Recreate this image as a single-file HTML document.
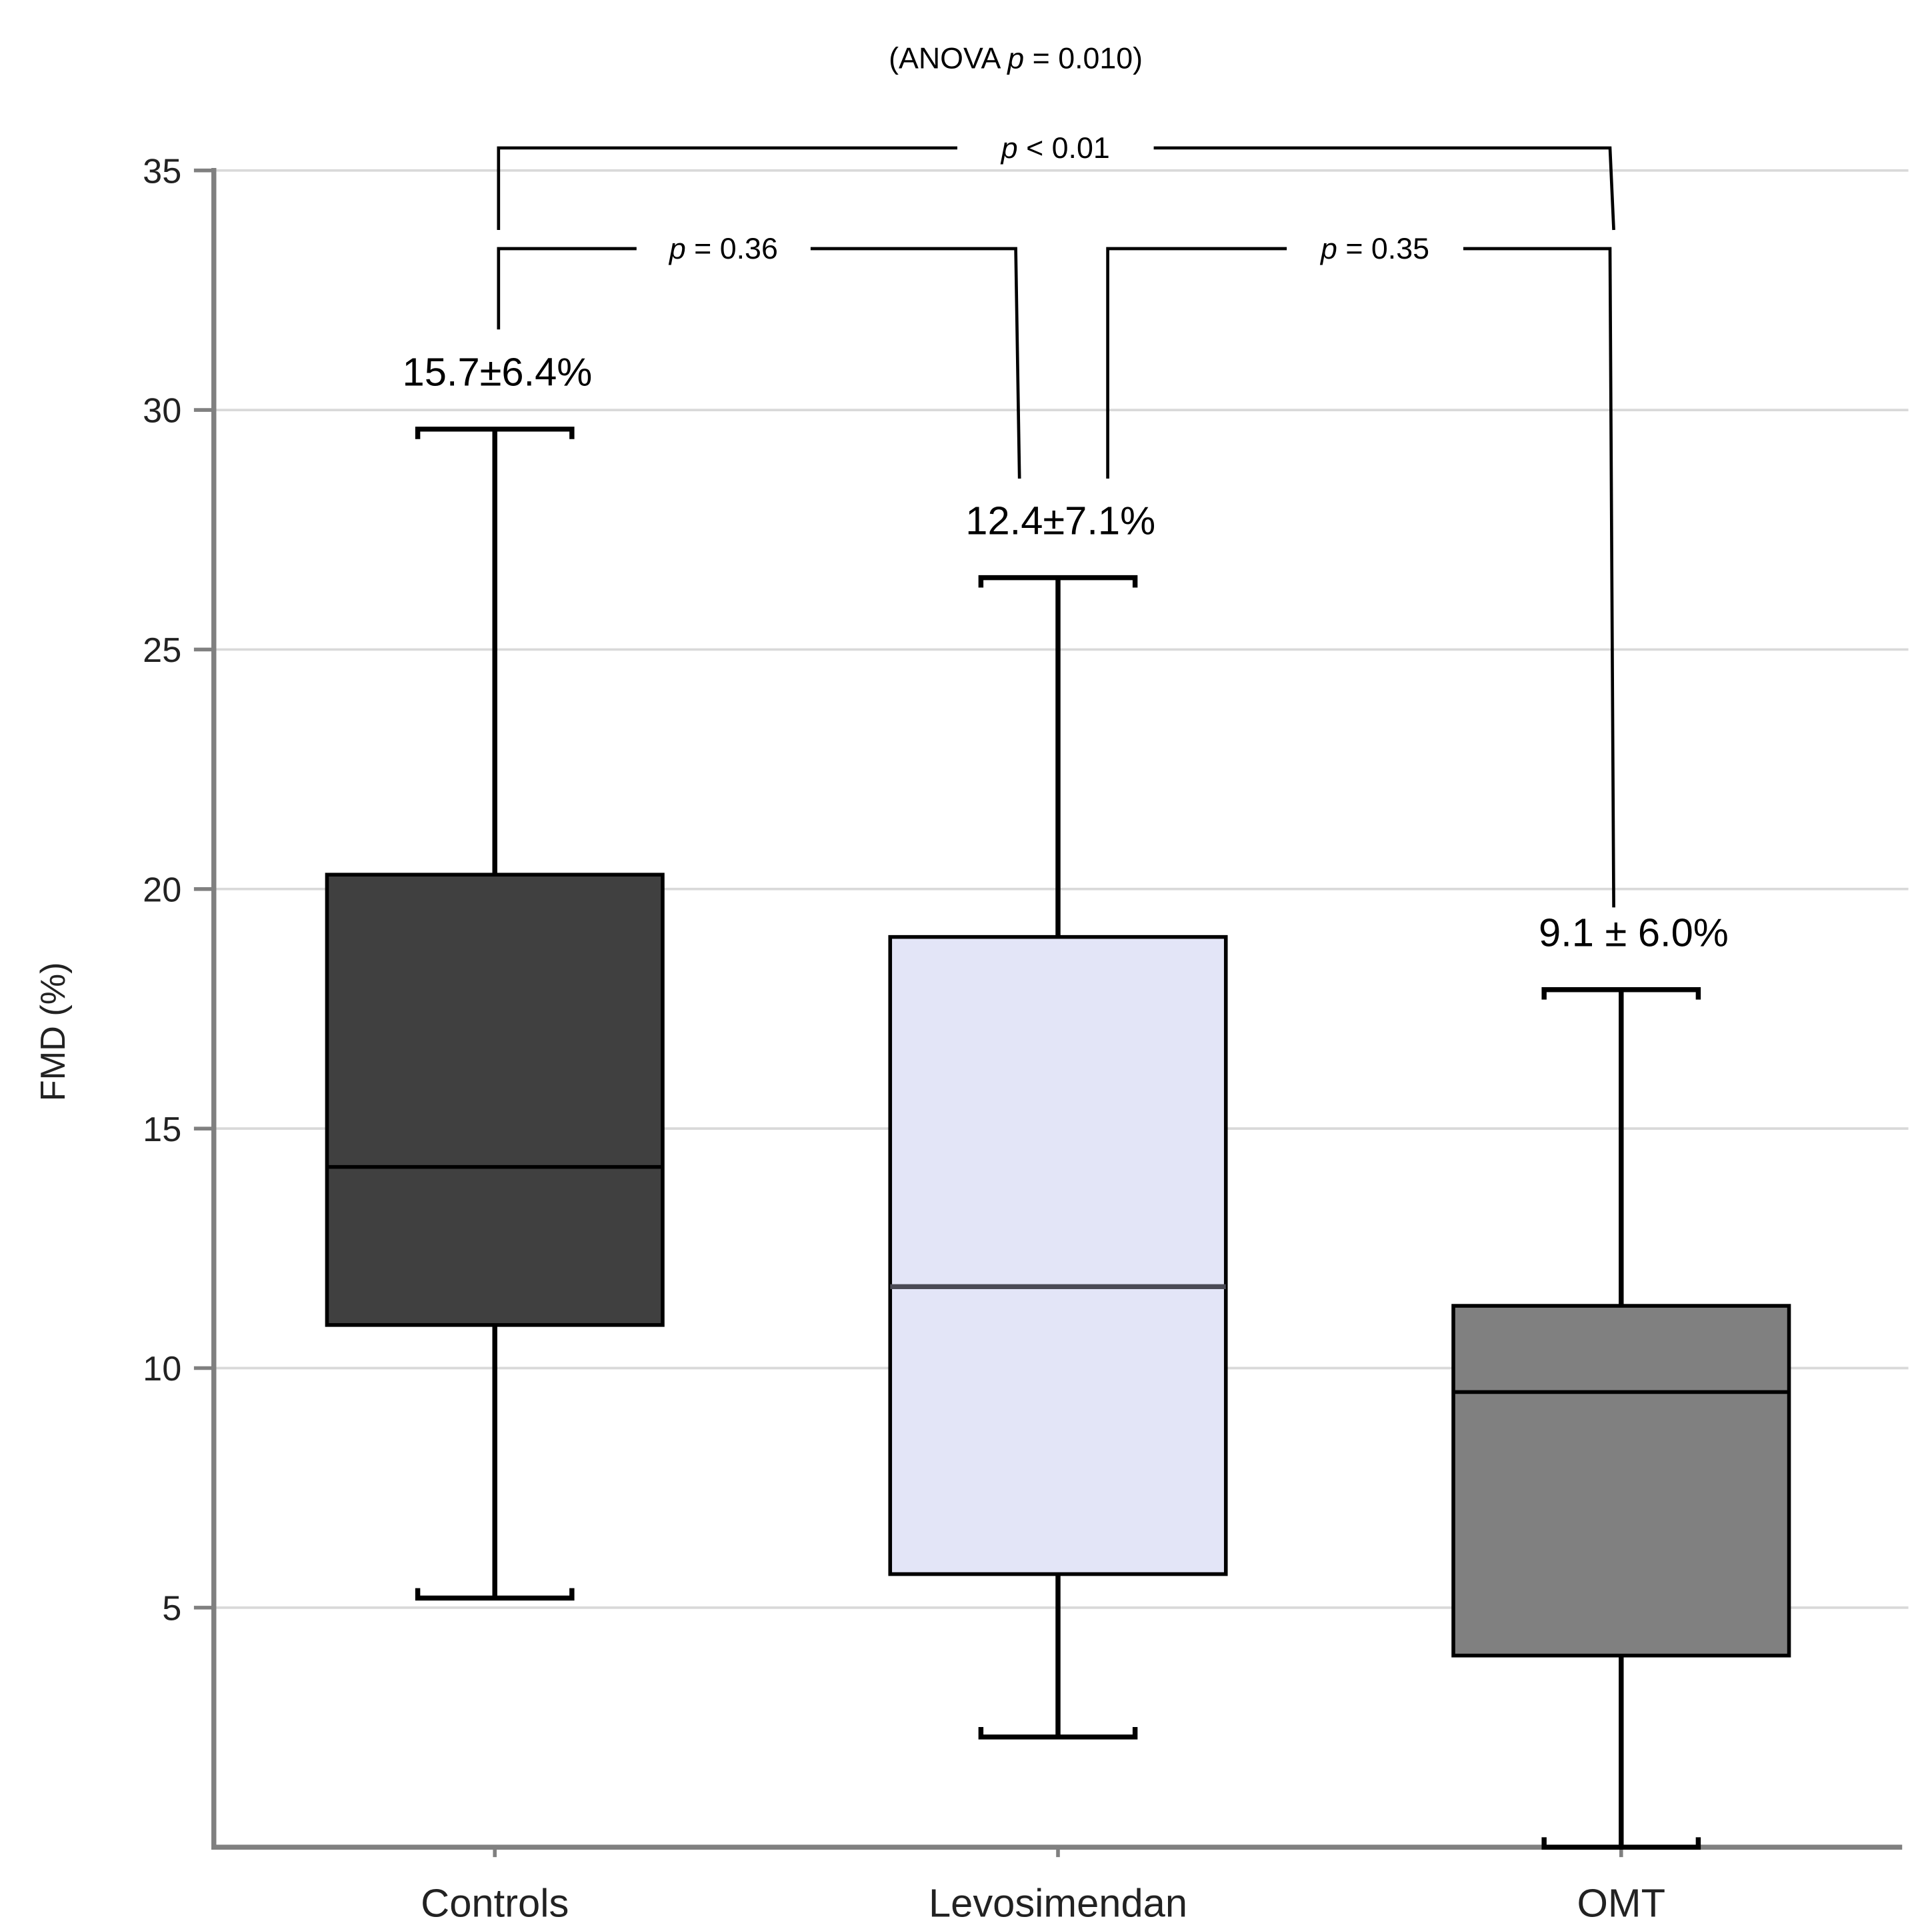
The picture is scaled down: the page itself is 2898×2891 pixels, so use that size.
<!DOCTYPE html>
<html><head><meta charset="utf-8"><style>html,body{margin:0;padding:0;background:#fff}svg{display:block}</style></head>
<body>
<svg id="chart" width="2898" height="2891" viewBox="0 0 1554 1550.2" xmlns="http://www.w3.org/2000/svg" font-family="Liberation Sans, sans-serif">
<rect width="1554" height="1551" fill="#fff"/>
<g id="grid"></g>
<g id="axes"></g>
<g id="boxes"></g>
<g id="annot"></g>
</svg>
<script>
const categories = ["Controls", "Levosimendan", "OMT"];
const whiskerLow = [5.2, 2.3, 0.0];
const q1 = [10.9, 5.7, 4.0];
const medians = [14.2, 11.7, 9.5];
const q3 = [20.3, 19.0, 11.3];
const whiskerHigh = [29.6, 26.5, 17.9];
const meanLabels = ["15.7±6.4%", "12.4±7.1%", "9.1 ± 6.0%"];
const yTicks = [5, 10, 15, 20, 25, 30, 35];
const fills = ["#404040", "#e3e5f7", "#808080"];

const NS = "http://www.w3.org/2000/svg";
const X0 = 172, X1 = 1530, Y0 = 1486, YPER = 192.7 / 5;
const centers = [398, 851, 1304];
const y = v => Y0 - v * YPER;
const x = i => centers[i];
function mk(tag, attrs, parent) {
  const e = document.createElementNS(NS, tag);
  for (const k in attrs) e.setAttribute(k, attrs[k]);
  document.getElementById(parent).appendChild(e);
  return e;
}
yTicks.forEach(t => {
  const g = mk("line", {x1: X0, x2: 1535, y1: y(t), y2: y(t), stroke: "#d9d9d9", "stroke-width": 2}, "grid");
  
  
  const tk = mk("line", {x1: 156, x2: X0, y1: y(t), y2: y(t), stroke: "#808080", "stroke-width": 3}, "axes");
  
  
  const tl = mk("text", {x: 146, y: y(t) + 10, "text-anchor": "end", "font-size": 28, fill: "#222"}, "axes");
  tl.textContent = t;
  
  
});
const ax = mk("path", {d: `M${X0} ${y(35)-2} V${Y0} H${X1}`, stroke: "#808080", "stroke-width": 4, fill: "none"}, "axes");


const yl = mk("text", {x: 0, y: 0, transform: "translate(52 830) rotate(-90)", "text-anchor": "middle", "font-size": 28, fill: "#222"}, "axes");
yl.textContent = "FMD (%)";



categories.forEach((c, i) => {
  const cx = x(i), hw = 135, cw = 62;
  const wl = mk("line", {x1: cx, x2: cx, y1: y(whiskerHigh[i]), y2: y(whiskerLow[i]), stroke: "#000", "stroke-width": 4}, "boxes");
  
  
  [whiskerHigh[i], whiskerLow[i]].forEach((v, j) => {
    const d = j === 0 ? 8 : -8;
    const cap = mk("path", {d: `M${cx-cw} ${y(v)+d} V${y(v)} H${cx+cw} V${y(v)+d}`, stroke: "#000", "stroke-width": 4, fill: "none"}, "boxes");
    
    
  });
  const b = mk("rect", {x: cx - hw, y: y(q3[i]), width: 2 * hw, height: y(q1[i]) - y(q3[i]), fill: fills[i], stroke: "#000", "stroke-width": 3}, "boxes");
  
  
  const m = mk("line", {x1: cx - hw, x2: cx + hw, y1: y(medians[i]), y2: y(medians[i]), stroke: i === 1 ? "#4a4a55" : "#000", "stroke-width": i === 1 ? 4 : 3}, "boxes");
  
  
  const ml = mk("text", {x: cx + (i === 2 ? 10 : 2), y: y(whiskerHigh[i]) - 35, "text-anchor": "middle", "font-size": 32, fill: "#000"}, "annot");
  ml.textContent = meanLabels[i];
  
  
  const xt = mk("line", {x1: cx, x2: cx, y1: Y0, y2: Y0 + 8, stroke: "#808080", "stroke-width": 3}, "axes");
  
  
  const xl = mk("text", {x: cx, y: 1542, "text-anchor": "middle", "font-size": 32, fill: "#222"}, "axes");
  xl.textContent = c;
  
  
});

function bracket(name, x1, y1, x2, y2, yb, g1, g2, label) {
  const p = mk("path", {d: `M${x1} ${y1} V${yb} H${g1} M${g2} ${yb} H${x2} L${x2+3} ${y2}`, stroke: "#000", "stroke-width": 2.5, fill: "none"}, "annot");
  
  
  const t = mk("text", {x: (g1 + g2) / 2, y: yb + 8, "text-anchor": "middle", "font-size": 24, fill: "#000"}, "annot");
  t.innerHTML = '<tspan font-style="italic">p</tspan> ' + label;
  
  
}
bracket("bracket-controls-omt", 401, 185, 1295, 185, 119, 770, 928, "&lt; 0.01");
bracket("bracket-controls-levo", 401, 265, 817, 385, 200, 512, 652, "= 0.36");
bracket("bracket-levo-omt", 891, 385, 1295, 730, 200, 1035, 1177, "= 0.35");
const an = mk("text", {x: 817, y: 55, "text-anchor": "middle", "font-size": 24, fill: "#000"}, "annot");
an.innerHTML = '(ANOVA <tspan font-style="italic">p</tspan> = 0.010)';


</script>
</body></html>
